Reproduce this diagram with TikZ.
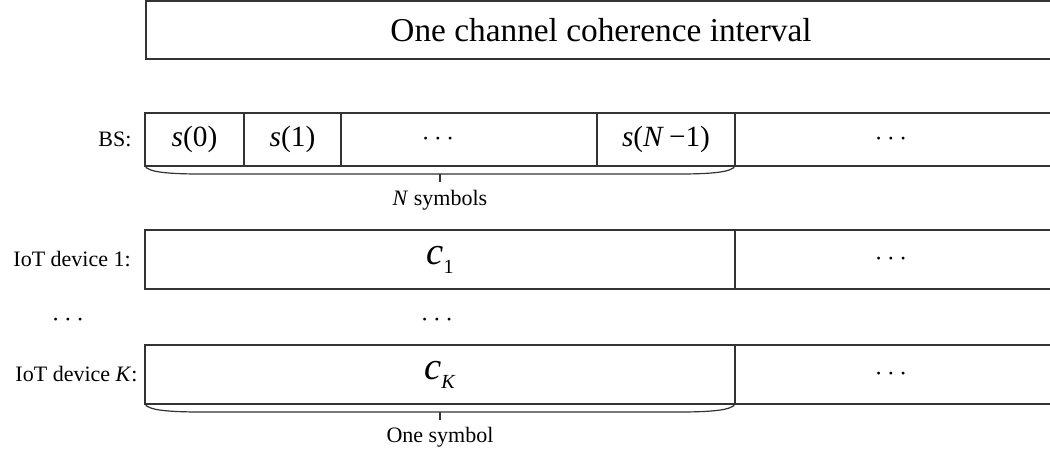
\documentclass[tikz,border=0pt]{standalone}
\usepackage{fontspec}
\setmainfont{Liberation Serif}
\usetikzlibrary{positioning, calc}
\tikzset{
x=0.75pt, y=-0.75pt, % one unit = one pixel of the layout, y grows downwards
frame/.style={draw=black!80, line width=0.9pt},
slot/.style={frame, inner sep=0pt, outer sep=0pt, minimum width=#1*0.75pt},
bsrow/.style={minimum height=53*0.75pt, font=\fontsize{22}{24}\selectfont},
iotrow/.style={minimum height=59*0.75pt, font=\fontsize{29}{31}\selectfont},
tag/.style={font=\fontsize{16.5}{19}\selectfont, inner sep=0pt},
dots/.style={font=\fontsize{20}{22}\selectfont, inner sep=0pt},
}
\newcommand{\csub}[1]{\textit{c}\raisebox{-0.5ex}{\fontsize{15}{17}\selectfont #1}}

\begin{document}
\begin{tikzpicture}
\useasboundingbox (0,0) rectangle (1050,455);
\clip (0,0) rectangle (1050,455);
% coherence interval
\node[slot=910, minimum height=58*0.75pt, anchor=north west,
      font=\fontsize{25}{28}\selectfont] (coh) at (146,1) {One channel coherence interval};
% base station
\node[slot=99, bsrow, anchor=west] (s0) at (145,139.5) {\textit{s}(0)};
\node[slot=97, bsrow, right=0pt of s0] (s1) {\textit{s}(1)};
\node[slot=256, bsrow, right=0pt of s1] (smid) {};
\node[slot=138, bsrow, right=0pt of smid] (sN) {\textit{s}(\textit{N}\,−1)};
\node[slot=330, bsrow, right=0pt of sN] (srest) {};
\node[dots] (smiddots) at (438,139.5) {$\cdots$};
\node[dots] (srestdots) at (891,139.5) {$\cdots$};
\node[tag, left=10pt of s0] (bs) {BS:};
% IoT device 1
\node[slot=590, iotrow, anchor=west] (c1) at (145,259.5) {\csub{1}};
\node[slot=330, iotrow, right=0pt of c1] (c1rest) {};
\node[dots] (c1dots) at (891,259.5) {$\cdots$};
\node[tag, left=10.5pt of c1] (dev1) {IoT device 1:};
% skipped devices
\node[dots] (vdots) at (68,320) {$\cdots$};
\node[dots] (cdots) at (437,320) {$\cdots$};
% IoT device K
\node[slot=590, iotrow, anchor=west] (cK) at (145,374.5) {\csub{\textit{K}}};
\node[slot=330, iotrow, right=0pt of cK] (cKrest) {};
\node[dots] (cKdots) at (891,374.5) {$\cdots$};
\node[tag, left=5.5pt of cK] (devK) {IoT device \textit{K}:};
% braces
\draw[frame] (s0.south west) .. controls +(3,6) and +(-35,0) .. ++(57,8)
   -- ([shift={(-57,8)}]sN.south east) .. controls +(35,0) and +(-3,6) .. (sN.south east);
\coordinate (ntip) at ($(s0.south west)!0.5!(sN.south east)+(0,8)$);
\draw[frame] (ntip) -- ++(0,8);
\node[tag] (nsym) at (440,200) {\textit{N} symbols};
\draw[frame] (cK.south west) .. controls +(3,6) and +(-35,0) .. ++(57,8)
   -- ([shift={(-57,8)}]cK.south east) .. controls +(35,0) and +(-3,6) .. (cK.south east);
\coordinate (ktip) at ($(cK.south)+(0,8)$);
\draw[frame] (ktip) -- ++(0,8);
\node[tag] (onesym) at (440,437) {One symbol};
\end{tikzpicture}
\end{document}
